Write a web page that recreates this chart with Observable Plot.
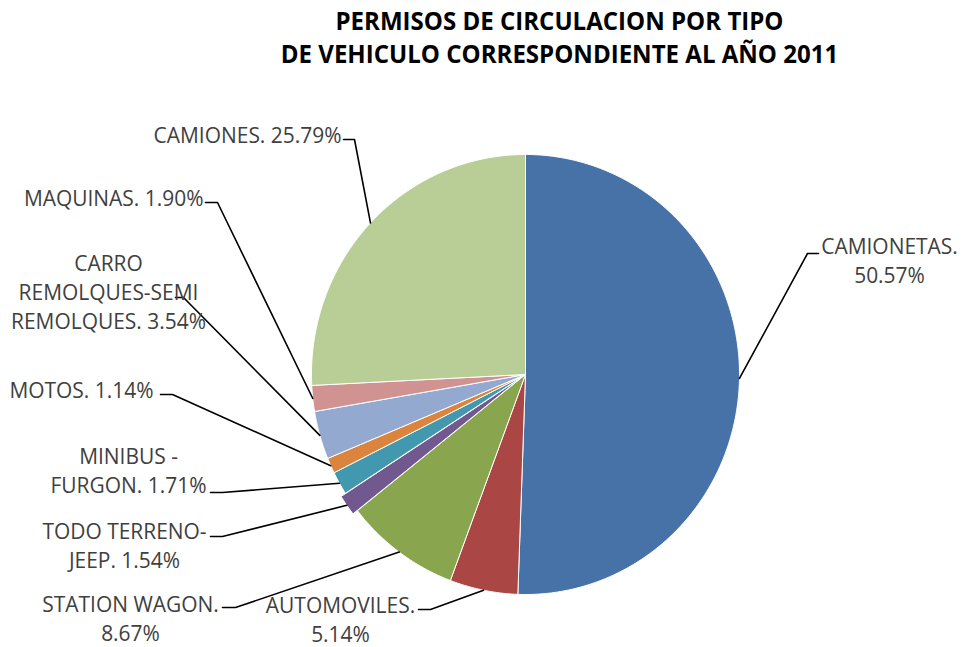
<!DOCTYPE html>
<html><head><meta charset="utf-8">
<script src="https://cdn.jsdelivr.net/npm/d3@7"></script>
<script src="https://cdn.jsdelivr.net/npm/@observablehq/plot@0.6"></script>
<style>body{margin:0;background:#fff} svg{display:block}</style>
</head><body><div id="chart"></div>
<script>
// ---- data ----
const categories = ["CAMIONETAS","AUTOMOVILES","STATION WAGON","TODO TERRENO-JEEP","MINIBUS - FURGON","MOTOS","CARRO REMOLQUES-SEMI REMOLQUES","MAQUINAS","CAMIONES"];
const percents = [50.57, 5.14, 8.67, 1.54, 1.71, 1.14, 3.54, 1.90, 25.79];
const labelNames = ["CAMIONETAS.", "AUTOMOVILES.", "STATION WAGON.", "TODO TERRENO-\nJEEP.", "MINIBUS -\nFURGON.", "MOTOS.", "CARRO\nREMOLQUES-SEMI\nREMOLQUES.", "MAQUINAS.", "CAMIONES."];
const colors = ["#4672a8","#aa4643","#89a54e","#71588f","#4198af","#db843d","#93a9cf","#d19392","#b9cd96"];
const titleLines = ["PERMISOS DE CIRCULACION POR TIPO", "DE VEHICULO CORRESPONDIENTE AL AÑO 2011"];

// ---- layout ----
const W = 962, H = 647;
const pie = {cx: 525, cy: 374, rx: 214, ry: 220};
const layout = [
  {sep: "\n", anchor: "middle", tx: 889, ty: 259, a: [818, 253], b: [807, 253]},
  {sep: "\n", anchor: "middle", tx: 340, ty: 618, a: [418, 609], b: [430, 609]},
  {sep: "\n", anchor: "middle", tx: 130, ty: 617, a: [222, 607], b: [235, 607]},
  {sep: " ",  anchor: "middle", tx: 124, ty: 544, a: [210, 536], b: [222, 536], explode: 0.025},
  {sep: " ",  anchor: "middle", tx: 128, ty: 469, a: [210, 492], b: [222, 492]},
  {sep: " ",  anchor: "end",    tx: 153, ty: 388, a: [160, 394], b: [172, 394]},
  {sep: " ",  anchor: "middle", tx: 108, ty: 290, a: [175, 297], b: [183, 297]},
  {sep: " ",  anchor: "end",    tx: 203, ty: 196, a: [205, 202], b: [217, 202]},
  {sep: " ",  anchor: "end",    tx: 341, ty: 133, a: [343, 139], b: [354, 139]}
];
const titlePos = {x: 559, y: [22, 55]};

// font fitting
const cnv = document.createElement("canvas").getContext("2d");
function fit(text, weight, target) {
  cnv.font = `${weight} 100px "Open Sans"`;
  return 100 * target / cnv.measureText(text).width;
}
const labelSize = fit("CAMIONES. 25.79%", "normal", 188);
const titleSize = fit(titleLines[1], "bold", 558);

// ---- geometry from data ----
const total = d3.sum(percents);
let acc = 0;
const slices = categories.map((name, i) => {
  const a0 = acc / total * 2 * Math.PI; acc += percents[i];
  const a1 = acc / total * 2 * Math.PI;
  return {name, a0, a1, mid: (a0 + a1) / 2, ex: layout[i].explode || 0};
});
const pt = (a, r, s) => ({
  x: pie.cx + pie.rx * (r * Math.sin(a) + s.ex * Math.sin(s.mid)),
  y: pie.cy - pie.ry * (r * Math.cos(a) + s.ex * Math.cos(s.mid))
});
const wedgePts = slices.flatMap(s => {
  const n = Math.max(2, Math.ceil((s.a1 - s.a0) / (Math.PI / 360)));
  const arr = [{name: s.name, ...pt(0, 0, s)}];
  for (let k = 0; k <= n; k++) arr.push({name: s.name, ...pt(s.a0 + (s.a1 - s.a0) * k / n, 1, s)});
  arr.push({name: s.name, ...pt(0, 0, s)});
  return arr;
});
const leaderPts = slices.flatMap((s, i) => {
  const L = layout[i];
  return [
    {name: s.name, x: L.a[0], y: L.a[1]},
    {name: s.name, x: L.b[0], y: L.b[1]},
    {name: s.name, ...pt(s.mid, 1, s)}
  ];
});
const labels = slices.map((s, i) => ({
  name: s.name, anchor: layout[i].anchor, x: layout[i].tx, y: layout[i].ty,
  text: labelNames[i] + layout[i].sep + percents[i].toFixed(2) + "%"
}));
const titleData = titleLines.map((t, i) => ({text: t, x: titlePos.x, y: titlePos.y[i]}));

const chart = Plot.plot({
  width: W, height: H, margin: 0,
  x: {domain: [0, W], range: [0, W], axis: null},
  y: {domain: [0, H], range: [0, H], axis: null},
  color: {domain: categories, range: colors},
  style: {fontFamily: '"Open Sans", sans-serif', background: "#fff"},
  marks: [
    Plot.line(wedgePts, {x: "x", y: "y", z: "name", fill: "name", stroke: "white", strokeWidth: 1}),
    Plot.line(leaderPts, {x: "x", y: "y", z: "name", stroke: "#000", strokeWidth: 1.6, strokeLinejoin: "miter"}),
    Plot.text(labels.filter(d => d.anchor === "end"), {x: "x", y: "y", text: "text", textAnchor: "end", fontSize: labelSize, fill: "#404040", lineHeight: 1.38}),
    Plot.text(labels.filter(d => d.anchor === "middle"), {x: "x", y: "y", text: "text", textAnchor: "middle", fontSize: labelSize, fill: "#404040", lineHeight: 1.38}),
    Plot.text(titleData, {x: "x", y: "y", text: "text", fontWeight: "bold", fontSize: titleSize, fill: "#000"})
  ]
});
document.getElementById("chart").append(chart);
</script>
</body></html>
